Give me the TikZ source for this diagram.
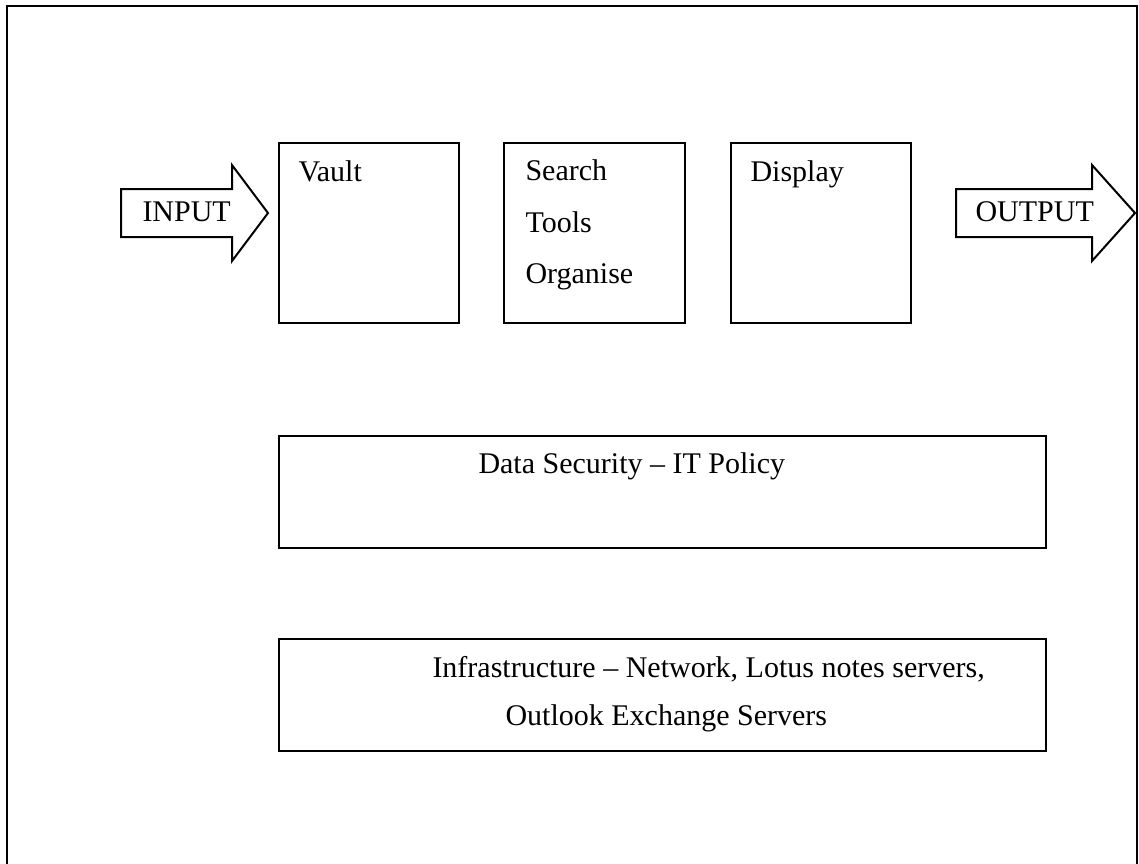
\documentclass[tikz,border=0pt]{standalone}
\usepackage{fontspec}
\setmainfont{Liberation Serif}
\begin{document}
\begin{tikzpicture}
	[x=0.4pt,y=-0.4pt,
	box/.style={draw,line width=0.8pt},
	lbl/.style={anchor=base west,inner sep=0pt,font=\fontsize{12}{14}\selectfont}]
	\useasboundingbox (0,0) rectangle (1139,863);
	% page frame, open at the bottom
	\draw[box] (7,875) -- (7,6) -- (1137,6) -- (1137,875);
	% block arrows in and out
	\draw[box] (121,189) -- (232,189) -- (232,165) -- (268,213) -- (232,261) -- (232,237) -- (121,237) -- cycle;
	\draw[box] (956,189) -- (1092,189) -- (1092,165) -- (1135,213) -- (1092,261) -- (1092,237) -- (956,237) -- cycle;
	\node[lbl] (in) at (142,221) {INPUT};
	\node[lbl] (out) at (975,221) {OUTPUT};
	% the three stages
	\draw[box] (279,143) rectangle (459,323);
	\draw[box] (504,143) rectangle (685,323);
	\draw[box] (731,143) rectangle (911,323);
	\node[lbl] (vault) at (298,181) {Vault};
	\node[lbl] (search) at (525,180) {Search};
	\node[lbl] (tools) at (525,232) {Tools};
	\node[lbl] (organise) at (525,283) {Organise};
	\node[lbl] (display) at (750,181) {Display};
	% layers underneath
	\draw[box] (279,436) rectangle (1046,548);
	\node[lbl] (policy) at (478,473) {Data Security -- IT Policy};
	\draw[box] (279,639) rectangle (1046,751);
	\node[lbl] (infra) at (432,677) {Infrastructure -- Network, Lotus notes servers,};
	\node[lbl] (servers) at (505,725) {Outlook Exchange Servers};
\end{tikzpicture}
\end{document}
